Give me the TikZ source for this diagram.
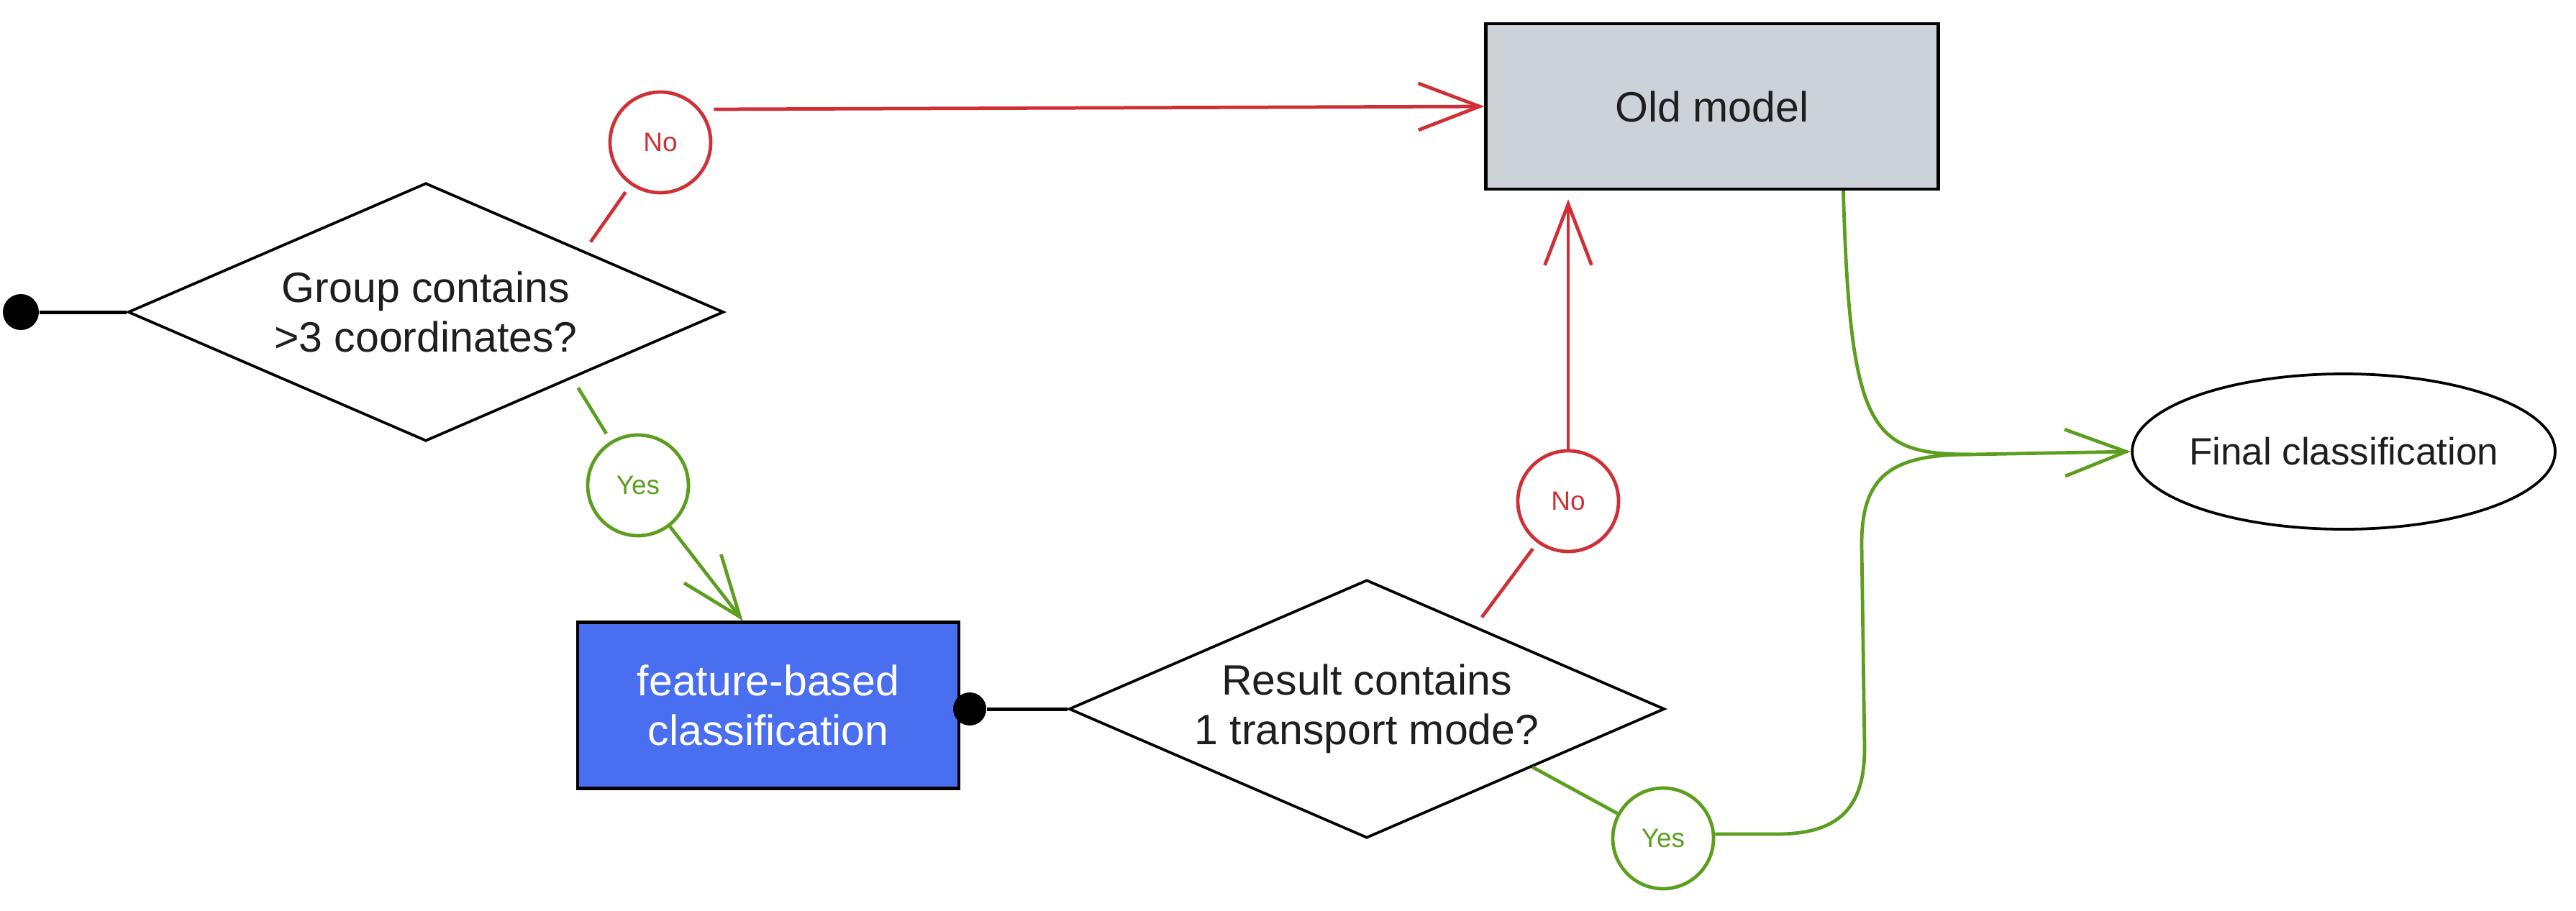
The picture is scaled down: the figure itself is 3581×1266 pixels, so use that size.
\documentclass[tikz,border=0pt]{standalone}
\usepackage{fontspec}
\setmainfont{Liberation Sans}
\usetikzlibrary{shapes.geometric,arrows.meta,calc}
\definecolor{cred}{HTML}{CF3036}
\definecolor{cgreen}{HTML}{5C9E1E}
\definecolor{cblue}{HTML}{4A6EF0}
\definecolor{cgray}{HTML}{CDD2D8}
\definecolor{ctext}{HTML}{1E1E1E}
\begin{document}
\begin{tikzpicture}[x=0.2pt,y=-0.2pt,
  decision/.style={diamond, draw=black, line width=0.75pt, aspect=2.3, inner sep=0pt,
    minimum width=165.6pt, minimum height=71.8pt, align=center,
    font=\fontsize{11.8pt}{13.8pt}\selectfont, text=ctext},
  procbox/.style={rectangle, draw=black, line width=0.85pt, align=center,
    font=\fontsize{11.8pt}{13.8pt}\selectfont},
  lbl/.style={circle, line width=0.95pt, minimum size=28pt, inner sep=0pt,
    font=\fontsize{7.4pt}{8.8pt}\selectfont},
  redlbl/.style={lbl, draw=cred, text=cred},
  greenlbl/.style={lbl, draw=cgreen, text=cgreen},
  dotnode/.style={circle, fill=black, inner sep=0pt, minimum size=10pt},
  redline/.style={draw=cred, line width=0.95pt},
  greenline/.style={draw=cgreen, line width=0.95pt},
  barbtip/.style={-{Straight Barb[length=17pt,width=13pt]}},
]
\useasboundingbox (0,0) rectangle (3581,1266);

% nodes
\node[dotnode] (start) at (29,434) {};
\node[decision] (d1) at (592,434) {Group contains\\>3 coordinates?};
\node[redlbl] (no1) at (918,198) {No};
\node[greenlbl] (yes1) at (887,675) {Yes};
\node[procbox, fill=cblue, text=white, minimum width=106pt, minimum height=46.2pt] (fb) at (1068,981) {feature-based\\classification};
\node[dotnode, minimum size=9.2pt] (fbdot) at (1348,986) {};
\node[decision] (d2) at (1900,986) {Result contains\\1 transport mode?};
\node[redlbl] (no2) at (2180,697) {No};
\node[greenlbl] (yes2) at (2312,1166) {Yes};
\node[procbox, fill=cgray, text=ctext, minimum width=125.8pt, minimum height=46pt] (old) at (2380,148) {Old model};
\node[ellipse, draw=black, line width=0.75pt, minimum width=117.6pt, minimum height=43.2pt,
  inner sep=0pt, font=\fontsize{10.6pt}{12.4pt}\selectfont, text=ctext] (fin) at (3258,628) {\makebox[0pt]{Final classification}};

% helper coordinates on borders
\coordinate (d1ne) at ($(d1.north)!0.53!(d1.east)$);
\coordinate (d1se) at ($(d1.south)!0.49!(d1.east)$);
\coordinate (d2ne) at ($(d2.north)!0.363!(d2.east)$);
\coordinate (d2se) at ($(d2.south)!0.554!(d2.east)$);
\coordinate (fbin) at ($(fb.north west)!0.434!(fb.north east)$);
\coordinate (oldout) at ($(old.south west)!0.788!(old.south east)$);
\coordinate (merge) at (2740,632);

% black connectors
\draw[line width=1pt] (start) -- (d1.west);
\draw[line width=1pt] (fbdot) -- (d2.west);

% red connectors
\draw[redline, shorten <=3pt, shorten >=2.4pt] (d1ne) -- (no1);
\draw[redline, barbtip] ([xshift=0.4pt,yshift=9.2pt]no1.east) -- (old.west);
\draw[redline, shorten <=3pt, shorten >=2pt] (d2ne) -- (no2);
\draw[redline, barbtip, shorten >=2.4pt] (no2.north) -- (no2.north |- old.south);

% green connectors
\draw[greenline, shorten <=3pt, shorten >=2.4pt] (d1se) -- (yes1);
\draw[greenline, barbtip] (yes1) -- (fbin);
\draw[greenline] (d2se) -- (yes2);
\draw[greenline] (oldout) .. controls (2572,600) and (2600,632) .. (merge);
\draw[greenline] ([yshift=1.2pt]yes2.east) -- (2470,1160) .. controls (2560,1160) and (2592,1120) .. (2592,1040)
  -- (2588,760) .. controls (2587,660) and (2630,632) .. (merge);
\draw[greenline, barbtip] (merge) -- (fin.west);
\end{tikzpicture}
\end{document}
